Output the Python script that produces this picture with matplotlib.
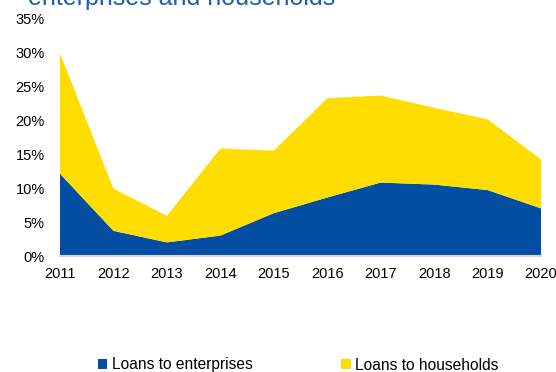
import matplotlib
matplotlib.use("Agg")
import matplotlib.pyplot as plt
from matplotlib.patches import Patch

plt.rcParams['font.family'] = ['Liberation Sans', 'DejaVu Sans']

years = [2011, 2012, 2013, 2014, 2015, 2016, 2017, 2018, 2019, 2020]
enterprises = [12.1, 3.7, 2.0, 3.0, 6.3, 8.6, 10.8, 10.5, 9.7, 7.0]
total = [29.8, 9.9, 5.9, 15.8, 15.5, 23.2, 23.6, 21.8, 20.1, 14.2]
households = [t - e for t, e in zip(total, enterprises)]
yticks = [0, 5, 10, 15, 20, 25, 30, 35]
labels = ["Loans to enterprises", "Loans to households"]
title = "enterprises and households"

blue = "#034EA2"
yellow = "#FFDD00"

W, H = 556, 372
fig = plt.figure(figsize=(W / 100, H / 100), dpi=100)
ax = fig.add_axes([60 / W, 1 - 256 / H, (541 - 60) / W, (256 - 18) / H])

ax.stackplot(years, enterprises, households, colors=[blue, yellow], linewidth=0)
ax.set_xlim(years[0], years[-1])
ax.set_ylim(0, 35)
ax.set_yticks(yticks)
ax.set_yticklabels([f"{v}%" for v in yticks])
ax.set_xticks(years)
ax.set_xticklabels([str(y) for y in years])
for s in ["top", "right", "left"]:
    ax.spines[s].set_visible(False)
ax.spines["bottom"].set_color("#d9d9d9")
ax.spines["bottom"].set_linewidth(1.5)
ax.tick_params(axis="both", length=0, labelsize=10.5, colors="#000000")
ax.tick_params(axis="y", pad=11)
ax.tick_params(axis="x", pad=8)

fig.text(28 / W, 1 - 4.5 / H, title, color="#1F5FAD", fontsize=18, ha="left", va="baseline")

handles = [Patch(facecolor=blue, edgecolor="none"), Patch(facecolor=yellow, edgecolor="none")]
fig.legend(handles, labels, loc="center left", bbox_to_anchor=(98 / W, 1 - 365 / H), ncol=2,
           frameon=False, fontsize=11.2, handlelength=0.6, handleheight=0.6, handletextpad=0.3,
           columnspacing=5.7, borderpad=0, borderaxespad=0)

fig.savefig("out.png", dpi=100)
